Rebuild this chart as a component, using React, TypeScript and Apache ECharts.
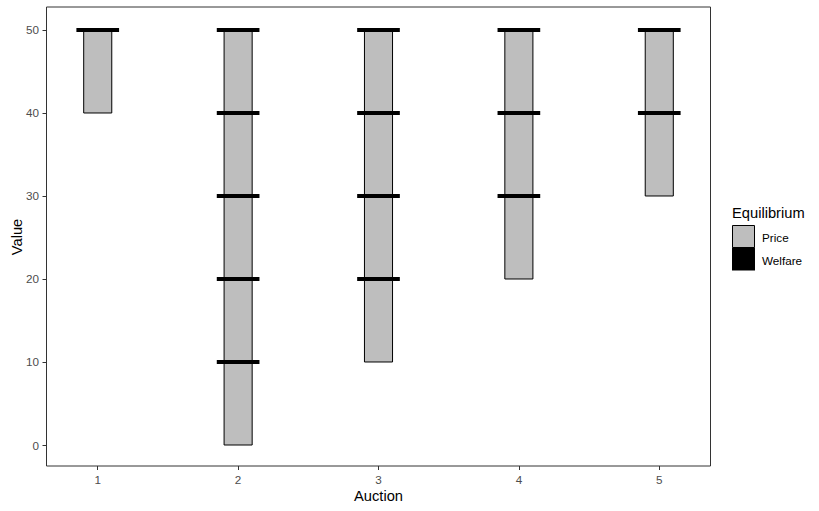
import React, { useEffect, useRef } from "react";
import * as echarts from "echarts";

const auctions = [1, 2, 3, 4, 5];
const priceLow = [40, 0, 10, 20, 30];
const priceHigh = [50, 50, 50, 50, 50];
const welfareAuction = [1, 2, 2, 2, 2, 2, 3, 3, 3, 3, 4, 4, 4, 5, 5];
const welfareValue = [50, 50, 40, 30, 20, 10, 50, 40, 30, 20, 50, 40, 30, 50, 40];
const yTicks = [0, 10, 20, 30, 40, 50];
const legendItems = ["Price", "Welfare"];

const FONT = "'Liberation Sans', Arial, sans-serif";

export default function App() {
  const ref = useRef<HTMLDivElement>(null);
  useEffect(() => {
    if (!ref.current) return;
    const chart = echarts.init(ref.current, null, { renderer: "svg" });
    const priceData = auctions.map((a, i) => [a, priceLow[i], priceHigh[i]]);
    const welfareData = welfareAuction.map((a, i) => [a, welfareValue[i]]);
    const gridLeft = 46.5, gridTop = 7, gridW = 664, gridH = 459;
    chart.setOption({
      animation: false,
      backgroundColor: "#ffffff",
      grid: {
        left: gridLeft,
        top: gridTop,
        width: gridW,
        height: gridH,
        show: true,
        borderColor: "#333333",
        borderWidth: 1,
        backgroundColor: "#ffffff",
      },
      xAxis: {
        type: "value",
        position: "bottom",
        min: 0.635,
        max: 5.365,
        axisLine: { show: false, onZero: false },
        splitLine: { show: false },
        axisTick: { show: true, length: 4, customValues: auctions, lineStyle: { color: "#333333" } },
        axisLabel: { show: false },
      },
      yAxis: {
        type: "value",
        position: "left",
        min: -2.53,
        max: 52.77,
        axisLine: { show: false, onZero: false },
        splitLine: { show: false },
        axisTick: { show: true, length: 4, customValues: yTicks, lineStyle: { color: "#333333" } },
        axisLabel: { show: false },
      },
      series: [
        {
          type: "custom",
          name: "Price",
          data: priceData,
          encode: { x: 0, y: [1, 2] },
          renderItem: (params: any, api: any) => {
            const x = api.value(0);
            const lo = api.value(1);
            const hi = api.value(2);
            const p1 = api.coord([x - 0.1, hi]);
            const p2 = api.coord([x + 0.1, lo]);
            return {
              type: "rect",
              shape: { x: p1[0], y: p1[1], width: p2[0] - p1[0], height: p2[1] - p1[1] },
              style: { fill: "#BEBEBE", stroke: "#000000", lineWidth: 1 },
            };
          },
          z: 2,
        },
        {
          type: "custom",
          name: "Welfare",
          data: welfareData,
          encode: { x: 0, y: 1 },
          renderItem: (params: any, api: any) => {
            const x = api.value(0);
            const v = api.value(1);
            const p1 = api.coord([x - 0.152, v]);
            const p2 = api.coord([x + 0.152, v]);
            return {
              type: "rect",
              shape: { x: p1[0], y: p1[1] - 2, width: p2[0] - p1[0], height: 4 },
              style: { fill: "#000000" },
            };
          },
          z: 3,
        },
      ],
    });

    const tickFont = `11.7px ${FONT}`;
    const yLabels = yTicks.map((v) => ({
      type: "text",
      x: 39,
      y: chart.convertToPixel({ yAxisIndex: 0 }, v) as number,
      style: {
        text: String(v),
        font: tickFont,
        fill: "#4D4D4D",
        align: "right",
        verticalAlign: "middle",
      },
    }));
    const xLabels = auctions.map((v) => ({
      type: "text",
      x: chart.convertToPixel({ xAxisIndex: 0 }, v) as number,
      y: 479.5,
      style: {
        text: String(v),
        font: tickFont,
        fill: "#4D4D4D",
        align: "center",
        verticalAlign: "middle",
      },
    }));

    chart.setOption({
      graphic: [
        ...yLabels,
        ...xLabels,
        {
          type: "text",
          x: 16.5,
          y: 237,
          rotation: Math.PI / 2,
          style: {
            text: "Value",
            font: `14.7px ${FONT}`,
            fill: "#000000",
            align: "center",
            verticalAlign: "middle",
          },
        },
        {
          type: "text",
          x: 378.5,
          y: 496,
          style: {
            text: "Auction",
            font: `14.7px ${FONT}`,
            fill: "#000000",
            align: "center",
            verticalAlign: "middle",
          },
        },
        {
          type: "text",
          x: 732,
          y: 213,
          style: {
            text: "Equilibrium",
            font: `14.7px ${FONT}`,
            fill: "#000000",
            align: "left",
            verticalAlign: "middle",
          },
        },
        {
          type: "rect",
          shape: { x: 732.5, y: 225.5, width: 22, height: 22 },
          style: { fill: "#BEBEBE", stroke: "#000000", lineWidth: 1 },
        },
        {
          type: "rect",
          shape: { x: 732, y: 247.5, width: 23, height: 23 },
          style: { fill: "#000000" },
        },
        {
          type: "text",
          x: 762,
          y: 237,
          style: {
            text: legendItems[0],
            font: `11.7px ${FONT}`,
            fill: "#000000",
            align: "left",
            verticalAlign: "middle",
          },
        },
        {
          type: "text",
          x: 762,
          y: 260,
          style: {
            text: legendItems[1],
            font: `11.7px ${FONT}`,
            fill: "#000000",
            align: "left",
            verticalAlign: "middle",
          },
        },
      ],
    });
    return () => chart.dispose();
  }, []);
  return (
    <div
      ref={ref}
      style={{ position: "fixed", left: 0, top: 0, width: 819, height: 511 }}
    />
  );
}
